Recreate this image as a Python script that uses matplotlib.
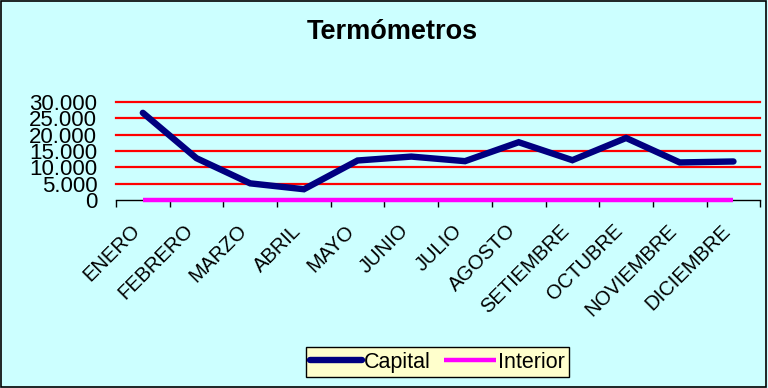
import numpy as np
import matplotlib
matplotlib.use("Agg")
import matplotlib.pyplot as plt
import matplotlib.transforms as mtransforms

plt.rcParams['font.family'] = ['Liberation Sans', 'DejaVu Sans']

# data
meses = ['ENERO', 'FEBRERO', 'MARZO', 'ABRIL', 'MAYO', 'JUNIO', 'JULIO',
         'AGOSTO', 'SETIEMBRE', 'OCTUBRE', 'NOVIEMBRE', 'DICIEMBRE']
capital = [26700, 12800, 5100, 3300, 12100, 13300, 11900,
           17700, 12200, 19000, 11500, 11800]
interior = [0, 0, 0, 0, 0, 0, 0, 0, 0, 0, 0, 0]
yticks = [0, 5000, 10000, 15000, 20000, 25000, 30000]
ylabels = ['0', '5.000', '10.000', '15.000', '20.000', '25.000', '30.000']

bg = '#CCFFFF'
fig = plt.figure(figsize=(7.68, 3.88), dpi=100, facecolor=bg)
fig.patches.append(plt.Rectangle((0.001, 0.002), 0.997, 0.995, transform=fig.transFigure,
                                 fill=False, edgecolor='black', linewidth=1.2))
ax = fig.add_axes([0.151, 0.4845, 0.839, 0.2525])
ax.set_facecolor(bg)

x = np.arange(len(meses))
for yv in yticks[1:]:
    ax.axhline(yv, color='red', linewidth=1.6, zorder=1, clip_on=False)
ax.plot(x, capital, color='#000080', linewidth=4.6, solid_capstyle='round',
        solid_joinstyle='miter', label='Capital', zorder=3, clip_on=False)
ax.plot(x, interior, color='#FF00FF', linewidth=3.2, solid_capstyle='butt',
        label='Interior', zorder=4, clip_on=False)

ax.set_xlim(-0.5, len(meses) - 0.5)
ax.set_ylim(0, 30000)
for s in ['top', 'right', 'left']:
    ax.spines[s].set_visible(False)
ax.spines['bottom'].set_linewidth(1)

ax.set_xticks(np.arange(-0.5, len(meses)))
ax.set_xticklabels([])
ax.tick_params(axis='x', which='major', direction='out', length=5, width=1)
ax.set_xticks(x, minor=True)
ax.set_xticklabels(meses, minor=True, rotation=45, ha='right', va='center',
                   rotation_mode='anchor', fontsize=14.5)
ax.tick_params(axis='x', which='minor', length=0, pad=20)
shift = mtransforms.ScaledTranslation(-6 / 100, 0, fig.dpi_scale_trans)
for lab in ax.get_xticklabels(minor=True):
    lab.set_transform(lab.get_transform() + shift)

ax.set_yticks(yticks)
ax.set_yticklabels(ylabels, fontsize=16)
ax.tick_params(axis='y', length=0, pad=13.5)

fig.text(0.511, 0.9175, 'Termómetros', ha='center', va='center',
         fontsize=19.5, fontweight='bold')

leg = fig.legend(loc='center', bbox_to_anchor=(0.5697, 0.067), ncol=2,
                 frameon=True, fontsize=15.5, handlelength=2.4, handletextpad=0.12,
                 columnspacing=0.6, borderpad=0.2, borderaxespad=0, fancybox=False)
leg.get_frame().set_facecolor('#FFFFCC')
leg.get_frame().set_edgecolor('black')
leg.get_frame().set_alpha(1)

fig.savefig('out.png', dpi=100, facecolor=bg)
